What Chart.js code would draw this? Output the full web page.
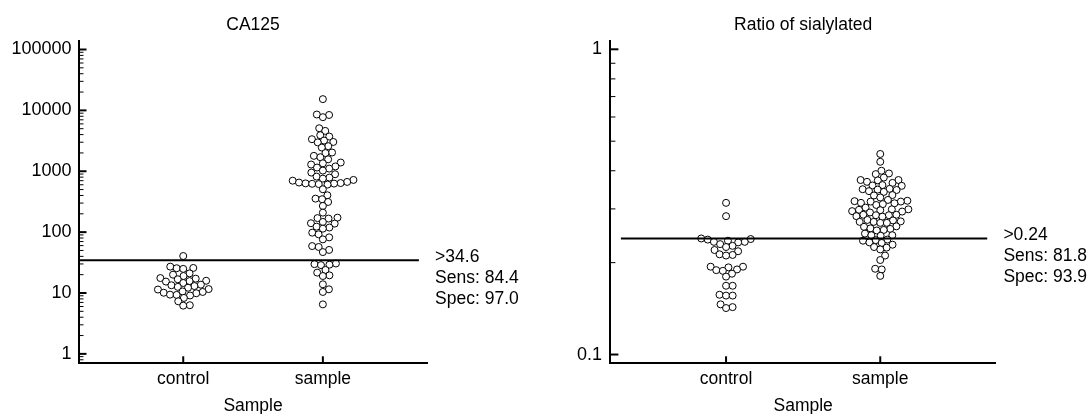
<!DOCTYPE html>
<html>
<head>
<meta charset="utf-8">
<script src="https://cdn.jsdelivr.net/npm/chart.js@4/dist/chart.umd.min.js"></script>
<style>
  html, body { margin: 0; padding: 0; background: #fff; }
  #wrap { position: relative; width: 1092px; height: 414px; overflow: hidden; }
  .panel { position: absolute; top: 0; width: 546px; height: 414px; }
</style>
</head>
<body>
<div id="wrap">
  <div class="panel" style="left:0"><canvas id="ca125" width="546" height="414"></canvas></div>
  <div class="panel" style="left:546px"><canvas id="sial" width="546" height="414"></canvas></div>
</div>
<script>
// ---- data ---------------------------------------------------------------
const categories = ['control', 'sample'];

// CA125
const ca125Control = [40.5, 27.1, 25.8, 25.5, 24.9, 21.0, 20.0, 19.0, 17.6, 17.2, 16.8,
  15.9, 15.7, 15.4, 14.6, 13.7, 13.4, 13.0, 12.6, 12.2, 11.6, 11.4, 10.6, 10.4, 10.1,
  9.9, 9.4, 9.3, 9.1, 8.3, 7.3, 6.3, 6.2];
const ca125Sample = [15300, 8550, 8400, 7730,
  5090, 4600, 3910, 3720, 3360, 3190, 3030, 2980,
  2580, 2450, 2030, 1990, 1790, 1700, 1570, 1390, 1350, 1290, 1200, 1150, 1105, 1025,
  951, 893, 817, 787, 757, 720, 700, 668, 652, 640, 632, 627, 622, 615, 604,
  506, 403, 355, 347, 313, 269,
  209, 173, 170, 167, 147, 140, 138, 123, 119, 114,
  98, 92, 82, 76, 59, 57, 51, 47,
  30.5, 29.8, 29.2, 28.7, 23.9, 21.6, 19.5, 19.0, 13.9, 11.5, 10.4, 6.5];
const ca125TickLabels = [1, 10, 100, 1000, 10000, 100000];
const ca125Cutoff = 34.6;
const ca125Sens = 84.4;
const ca125Spec = 97.0;

// Ratio of sialylated
const sialControl = [0.314, 0.284, 0.240, 0.239, 0.238, 0.236, 0.234, 0.234, 0.233,
  0.230, 0.227, 0.225, 0.220, 0.218, 0.213, 0.212, 0.211, 0.194, 0.194, 0.193, 0.190,
  0.189, 0.188, 0.184, 0.180, 0.168, 0.168, 0.157, 0.156, 0.156, 0.146, 0.143, 0.142];
const sialSample = [0.454, 0.428, 0.400, 0.392, 0.390, 0.380,
  0.373, 0.373, 0.372, 0.368,
  0.365, 0.359, 0.358, 0.357,
  0.349, 0.348, 0.347, 0.346, 0.343, 0.341,
  0.333, 0.332, 0.327,
  0.321, 0.319, 0.318, 0.317, 0.317,
  0.314, 0.313, 0.311, 0.309,
  0.303, 0.299, 0.299, 0.298, 0.297, 0.295, 0.294, 0.292,
  0.287, 0.287, 0.286, 0.286, 0.284, 0.283,
  0.276, 0.275, 0.273, 0.272, 0.272, 0.270, 0.270,
  0.263, 0.262, 0.259, 0.258, 0.256, 0.255,
  0.249, 0.246, 0.246, 0.245,
  0.238, 0.237, 0.236, 0.233, 0.232, 0.229,
  0.225, 0.224, 0.221,
  0.211, 0.204, 0.191, 0.190, 0.181];
const sialTickLabels = [0.1, 1];
const sialCutoff = 0.24;
const sialSens = 81.8;
const sialSpec = 93.9;

// ---- look ---------------------------------------------------------------
const FONT_FAMILY = '"Liberation Sans", Arial, Helvetica, sans-serif';
const FONT_SIZE = 17.5;
const TICK_FONT_SIZE = 18;
Chart.defaults.font.family = FONT_FAMILY;
Chart.defaults.font.size = FONT_SIZE;
Chart.defaults.color = '#000';

// Greedy beeswarm: spread points sideways so circles with similar values don't pile up.
function swarmOffsets(ys, minDist) {
  const order = ys.map((y, i) => i).sort((a, b) => ys[b] - ys[a]);
  const placed = [];
  const out = new Array(ys.length).fill(0);
  order.forEach(i => {
    const y = ys[i];
    const blocked = [];
    placed.forEach(p => {
      const dy = Math.abs(p.y - y);
      if (dy < minDist) {
        const dx = Math.sqrt(minDist * minDist - dy * dy);
        blocked.push([p.x - dx, p.x + dx]);
      }
    });
    const cands = [0];
    blocked.forEach(([a, b]) => cands.push(a, b));
    cands.sort((a, b) => (Math.abs(a) - Math.abs(b)) || (b - a));
    const x = cands.find(c => blocked.every(([a, b]) => c <= a + 1e-6 || c >= b - 1e-6));
    placed.push({ x, y });
    out[i] = x;
  });
  return out;
}

const decor = {
  id: 'decor',
  afterDatasetsUpdate(chart) {
    chart.data.datasets.forEach((ds, di) => {
      const pts = chart.getDatasetMeta(di).data;
      const offs = swarmOffsets(pts.map(p => p.y), 6.6);
      pts.forEach((p, i) => { p.x += offs[i]; });
    });
  },
  beforeDatasetsDraw(chart, args, o) {
    const { ctx, chartArea: a } = chart;
    const ys = chart.scales.y, xs = chart.scales.x;
    const seg = (x1, y1, x2, y2) => { ctx.beginPath(); ctx.moveTo(x1, y1); ctx.lineTo(x2, y2); ctx.stroke(); };
    ctx.save();
    ctx.strokeStyle = '#000';
    // major ticks, pointing into the plot
    ctx.lineWidth = 2;
    o.majors.forEach(v => { const y = ys.getPixelForValue(v); seg(a.left, y, a.left + 8, y); });
    // minor ticks 2..9 in each decade
    ctx.lineWidth = 1;
    const e0 = Math.floor(Math.log10(ys.min)), e1 = Math.ceil(Math.log10(ys.max));
    for (let e = e0; e <= e1; e++) {
      for (let m = 2; m <= 9; m++) {
        const v = m * Math.pow(10, e);
        if (v > ys.min && v < ys.max) { const y = ys.getPixelForValue(v); seg(a.left, y, a.left + 5, y); }
      }
    }
    // category ticks on the x axis
    ctx.lineWidth = 2;
    categories.forEach((c, i) => { const x = xs.getPixelForValue(i); seg(x, a.bottom, x, a.bottom - 7); });
    ctx.restore();
  },
  afterDatasetsDraw(chart, args, o) {
    const { ctx, chartArea: a } = chart;
    const y = chart.scales.y.getPixelForValue(o.cutoff);
    ctx.save();
    ctx.strokeStyle = '#000';
    ctx.lineWidth = 2;
    ctx.beginPath();
    ctx.moveTo(a.left + o.lineStart, y);
    ctx.lineTo(a.right - 8.7, y);
    ctx.stroke();
    ctx.fillStyle = '#000';
    ctx.font = FONT_SIZE + 'px ' + FONT_FAMILY;
    ctx.textAlign = 'left';
    ctx.textBaseline = 'middle';
    const lines = ['>' + o.cutoff, 'Sens: ' + o.sens.toFixed(1), 'Spec: ' + o.spec.toFixed(1)];
    lines.forEach((t, i) => ctx.fillText(t, a.right + 7.5, y - 3 + i * 21));
    ctx.restore();
  }
};

function makeChart(id, title, control, sample, tickLabels, yMin, yMax, yAxisWidth, padRight, cutoff, sens, spec, lineStart, labelPad) {
  const pointStyle = { pointRadius: 3.5, pointBorderWidth: 1, pointBorderColor: '#000', pointBackgroundColor: '#fff' };
  return new Chart(document.getElementById(id), {
    type: 'scatter',
    data: {
      datasets: [
        Object.assign({ label: categories[0], data: control.map(v => ({ x: 0, y: v })) }, pointStyle),
        Object.assign({ label: categories[1], data: sample.map(v => ({ x: 1, y: v })) }, pointStyle)
      ]
    },
    options: {
      responsive: false,
      maintainAspectRatio: false,
      devicePixelRatio: 1,
      animation: false,
      events: [],
      layout: { padding: { left: 0, right: padRight, top: 0, bottom: 0 } },
      plugins: {
        legend: { display: false },
        tooltip: { enabled: false },
        title: {
          display: true, text: title, fullSize: false, color: '#000',
          font: { size: FONT_SIZE, weight: 'normal', lineHeight: 1.2 },
          padding: { top: 14.8, bottom: 4.9 }
        },
        decor: { majors: tickLabels, cutoff, sens, spec, lineStart }
      },
      scales: {
        x: {
          type: 'linear', min: -0.75, max: 1.75,
          afterBuildTicks: s => { s.ticks = categories.map((c, i) => ({ value: i })); },
          ticks: { callback: v => categories[v], padding: 5.5, autoSkip: false, maxRotation: 0, color: '#000' },
          grid: { display: false, drawTicks: false },
          border: { display: true, color: '#000', width: 2 },
          title: { display: true, text: 'Sample', color: '#000', font: { size: FONT_SIZE, lineHeight: 1.2 }, padding: { top: 0, bottom: -3 } },
          afterFit: s => { s.height = 50.7; }
        },
        y: {
          type: 'logarithmic', min: yMin, max: yMax,
          afterBuildTicks: s => { s.ticks = tickLabels.map(v => ({ value: v })); },
          ticks: { callback: v => String(v), padding: labelPad, autoSkip: false, color: '#000', font: { size: TICK_FONT_SIZE } },
          grid: { display: false, drawTicks: false },
          border: { display: true, color: '#000', width: 2 },
          afterFit: s => { s.width = yAxisWidth; }
        }
      }
    },
    plugins: [decor]
  });
}

makeChart('ca125', 'CA125', ca125Control, ca125Sample, ca125TickLabels, 0.72, 139500,
  78.5, 118.4, ca125Cutoff, ca125Sens, ca125Spec, 0, 7);
makeChart('sial', 'Ratio of sialylated', sialControl, sialSample, sialTickLabels, 0.0936, 1.067,
  64.4, 96.1, sialCutoff, sialSens, sialSpec, 10.5, 8.5);
</script>
</body>
</html>
